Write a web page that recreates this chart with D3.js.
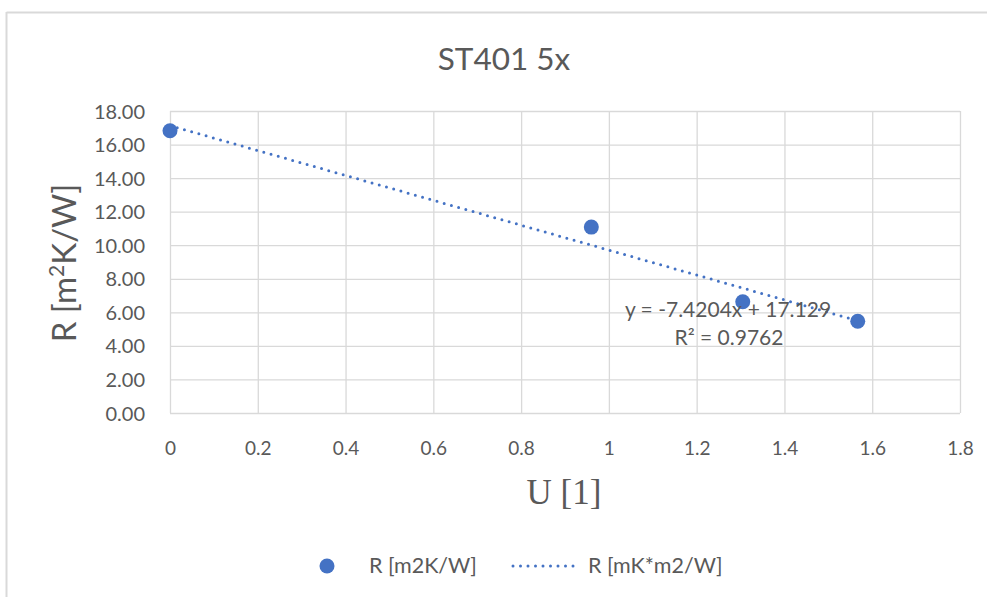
<!DOCTYPE html>
<html><head><meta charset="utf-8">
<script src="https://cdn.jsdelivr.net/npm/d3@7"></script>
<style>body{margin:0;background:#fff;} svg{display:block;}</style>
</head><body>
<svg id="c" width="987" height="597"></svg>
<script>
const uValues = [0, 0.96, 1.305, 1.567];
const rValues = [16.82, 11.08, 6.63, 5.47];
const xTicks = [0, 0.2, 0.4, 0.6, 0.8, 1, 1.2, 1.4, 1.6, 1.8];
const yTicks = [0, 2, 4, 6, 8, 10, 12, 14, 16, 18];
const trendSlope = [-7.4204];
const trendIntercept = [17.129];
const rSquared = [0.9762];
const seriesNames = ["R [m2K/W]", "R [mK*m2/W]"];
const titleText = "ST401 5x";

const svg = d3.select("#c");
const col = "#4472c4", txt = "#595959", grid = "#d9d9d9";
const font = "Lato, 'Open Sans', sans-serif";

// outer frame
svg.append("line").attr("x1",6.5).attr("x2",987).attr("y1",12.5).attr("y2",12.5).attr("stroke","#d9d9d9").attr("stroke-width",2);
svg.append("line").attr("x1",6.5).attr("x2",6.5).attr("y1",12).attr("y2",597).attr("stroke","#d9d9d9").attr("stroke-width",2);

const x = d3.scaleLinear().domain([0,1.8]).range([170,960]);
const y = d3.scaleLinear().domain([0,18]).range([413,111]);

// gridlines
svg.append("g").selectAll("line").data(yTicks).join("line")
  .attr("x1",x(0)).attr("x2",x(1.8)).attr("y1",d=>y(d)+0.5).attr("y2",d=>y(d)+0.5)
  .attr("stroke",grid).attr("stroke-width",1.3);
svg.append("g").selectAll("line").data(xTicks).join("line")
  .attr("y1",y(0)).attr("y2",y(18)).attr("x1",d=>x(d)+0.5).attr("x2",d=>x(d)+0.5)
  .attr("stroke",grid).attr("stroke-width",1.3);

// axes labels via d3 axes
const yAxis = svg.append("g").attr("transform",`translate(${x(0)-22},0)`)
  .call(d3.axisLeft(y).tickValues(yTicks).tickFormat(d3.format(".2f")).tickSize(0));
yAxis.select(".domain").remove();
yAxis.selectAll("text").attr("fill",txt).attr("font-size",20).attr("font-family",font).attr("dy","0.35em");

const xAxis = svg.append("g").attr("transform",`translate(0,${y(0)+25})`)
  .call(d3.axisBottom(x).tickValues(xTicks).tickFormat(d=>String(d)).tickSize(0));
xAxis.select(".domain").remove();
xAxis.selectAll("text").attr("fill",txt).attr("font-size",19).attr("font-family",font).attr("dy","0.71em");

// title
svg.append("text").attr("x",504).attr("y",70).attr("text-anchor","middle")
  .attr("fill",txt).attr("font-size",31.5).attr("font-family",font).text(titleText);

// axis titles
const yt = svg.append("text").attr("transform","translate(76,263) rotate(-90)").attr("text-anchor","middle")
  .attr("fill",txt).attr("font-size",33).attr("font-family",font);
yt.append("tspan").text("R [m");
yt.append("tspan").attr("font-size",21).attr("dy",-12).text("2");
yt.append("tspan").attr("dy",12).text("K/W]");

svg.append("text").attr("x",564).attr("y",504).attr("text-anchor","middle")
  .attr("fill",txt).attr("font-size",35).attr("font-family","'Liberation Serif', 'DejaVu Serif', serif").text("U [1]");

// trendline
const xMin = d3.min(uValues), xMax = d3.max(uValues);
svg.append("line")
  .attr("x1",x(xMin)).attr("y1",y(trendIntercept[0]+trendSlope[0]*xMin))
  .attr("x2",x(xMax)).attr("y2",y(trendIntercept[0]+trendSlope[0]*xMax))
  .attr("stroke",col).attr("stroke-width",3).attr("stroke-dasharray","0 7.5").attr("stroke-linecap","round");

// points
svg.append("g").selectAll("circle").data(uValues).join("circle")
  .attr("cx",(d)=>x(d)).attr("cy",(d,i)=>y(rValues[i])).attr("r",7.5).attr("fill",col);

// equation label
svg.append("text").attr("x",728).attr("y",317).attr("text-anchor","middle")
  .attr("fill",txt).attr("font-size",21).attr("font-family",font)
  .text(`y = ${trendSlope[0]}x + ${trendIntercept[0]}`);
svg.append("text").attr("x",729).attr("y",345).attr("text-anchor","middle")
  .attr("fill",txt).attr("font-size",21).attr("font-family",font)
  .text(`R² = ${rSquared[0]}`);

// legend
svg.append("circle").attr("cx",327).attr("cy",566).attr("r",7.5).attr("fill",col);
svg.append("text").attr("x",369).attr("y",573).attr("fill",txt).attr("font-size",21.5).attr("font-family",font).text(seriesNames[0]);
svg.append("line").attr("x1",513).attr("x2",580).attr("y1",566).attr("y2",566)
  .attr("stroke",col).attr("stroke-width",3).attr("stroke-dasharray","0 7.5").attr("stroke-linecap","round");
svg.append("text").attr("x",588).attr("y",573).attr("fill",txt).attr("font-size",21.5).attr("font-family",font).text(seriesNames[1]);
</script>
</body></html>
